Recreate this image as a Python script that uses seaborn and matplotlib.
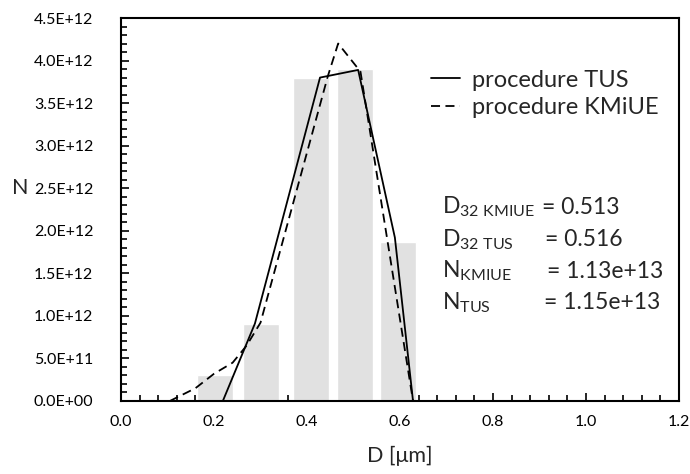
import numpy as np
import pandas as pd
import matplotlib
matplotlib.use("Agg")
import matplotlib.pyplot as plt
import seaborn as sns
from matplotlib.ticker import MultipleLocator, FuncFormatter

# ---- data ----
bar_d = [0.202, 0.301, 0.409, 0.503, 0.596]
bar_n = [0.30e12, 0.90e12, 3.80e12, 3.90e12, 1.87e12]

tus_d = [0.219, 0.288, 0.428, 0.510, 0.589, 0.628]
tus_n = [0.0, 0.91e12, 3.80e12, 3.89e12, 1.92e12, 0.0]

kmiue_d = [0.105, 0.16, 0.20, 0.24, 0.27, 0.30, 0.445, 0.467, 0.515, 0.628]
kmiue_n = [0.0, 0.15e12, 0.32e12, 0.45e12, 0.65e12, 0.92e12, 3.82e12, 4.20e12, 3.87e12, 0.0]

stat_labels = [r"D$_{\mathrm{32\ KMIUE}}$", r"D$_{\mathrm{32\ TUS}}$",
               r"N$_{\mathrm{KMIUE}}$", r"N$_{\mathrm{TUS}}$"]
stat_values = ["= 0.513", "= 0.516", "= 1.13e+13", "= 1.15e+13"]
stat_value_x = [0.905, 0.912, 0.917, 0.910]

xticks = [0.0, 0.2, 0.4, 0.6, 0.8, 1.0, 1.2]

sns.set_theme(style="white")
plt.rcParams['font.family'] = ['Lato', 'DejaVu Sans']
plt.rcParams['mathtext.fontset'] = 'custom'
plt.rcParams['mathtext.rm'] = 'Lato'
plt.rcParams['mathtext.it'] = 'Lato'

fig = plt.figure(figsize=(6.9, 4.74), dpi=100)
ax = fig.add_axes([121/690, 1-401/474, 558/690, 383/474])

bars = pd.DataFrame({"D": bar_d, "N": bar_n})
sns.barplot(data=bars, x="D", y="N", native_scale=True, color="#e1e1e1",
            saturation=1, width=0.835, ax=ax, zorder=1)

tus = pd.DataFrame({"D": tus_d, "N": tus_n})
kmi = pd.DataFrame({"D": kmiue_d, "N": kmiue_n})
sns.lineplot(data=tus, x="D", y="N", sort=False, color="black", lw=1.3,
             ax=ax, label="procedure TUS", zorder=3)
sns.lineplot(data=kmi, x="D", y="N", sort=False, color="black", lw=1.3,
             ax=ax, label="procedure KMiUE", zorder=3)
ax.lines[-1].set_dashes([5, 3])

ax.set_xlim(0, 1.2)
ax.set_ylim(0, 4.5e12)
ax.set_xticks(xticks)
ax.xaxis.set_minor_locator(MultipleLocator(0.04))
ax.yaxis.set_major_locator(MultipleLocator(0.5e12))
ax.yaxis.set_minor_locator(MultipleLocator(1e11))
ax.xaxis.set_major_formatter(FuncFormatter(lambda v, p: f"{v:.1f}"))
ax.yaxis.set_major_formatter(FuncFormatter(lambda v, p: f"{v:.1E}"))

ax.tick_params(axis="both", which="both", direction="in", colors="black",
               labelsize=11.5, width=1.2)
ax.tick_params(axis="both", which="major", length=6)
ax.tick_params(axis="both", which="minor", length=4)
ax.tick_params(axis="x", which="both", bottom=True, pad=10)
ax.tick_params(axis="y", which="both", left=True, pad=20)

for s in ax.spines.values():
    s.set_visible(True)
    s.set_color("black")
    s.set_linewidth(1.5)

ax.set_xlabel("D [μm]", fontsize=15.5, labelpad=12)
ax.set_ylabel("N", fontsize=15.5, rotation=0, va="center", ha="center")
ax.yaxis.set_label_coords(-0.181, 0.555)

leg = ax.legend(loc="upper left", bbox_to_anchor=(0.555, 0.865), frameon=False,
                fontsize=17, handlelength=1.25, handletextpad=0.5,
                labelspacing=0.28, borderpad=0, borderaxespad=0)

ys = [2.20e12, 1.82e12, 1.45e12, 1.08e12]
for lab, val, vx, y in zip(stat_labels, stat_values, stat_value_x, ys):
    ax.text(0.690, y, lab, fontsize=16.5, va="baseline", ha="left")
    ax.text(vx, y, val, fontsize=16.5, va="baseline", ha="left")

fig.savefig("out.png", dpi=100)
